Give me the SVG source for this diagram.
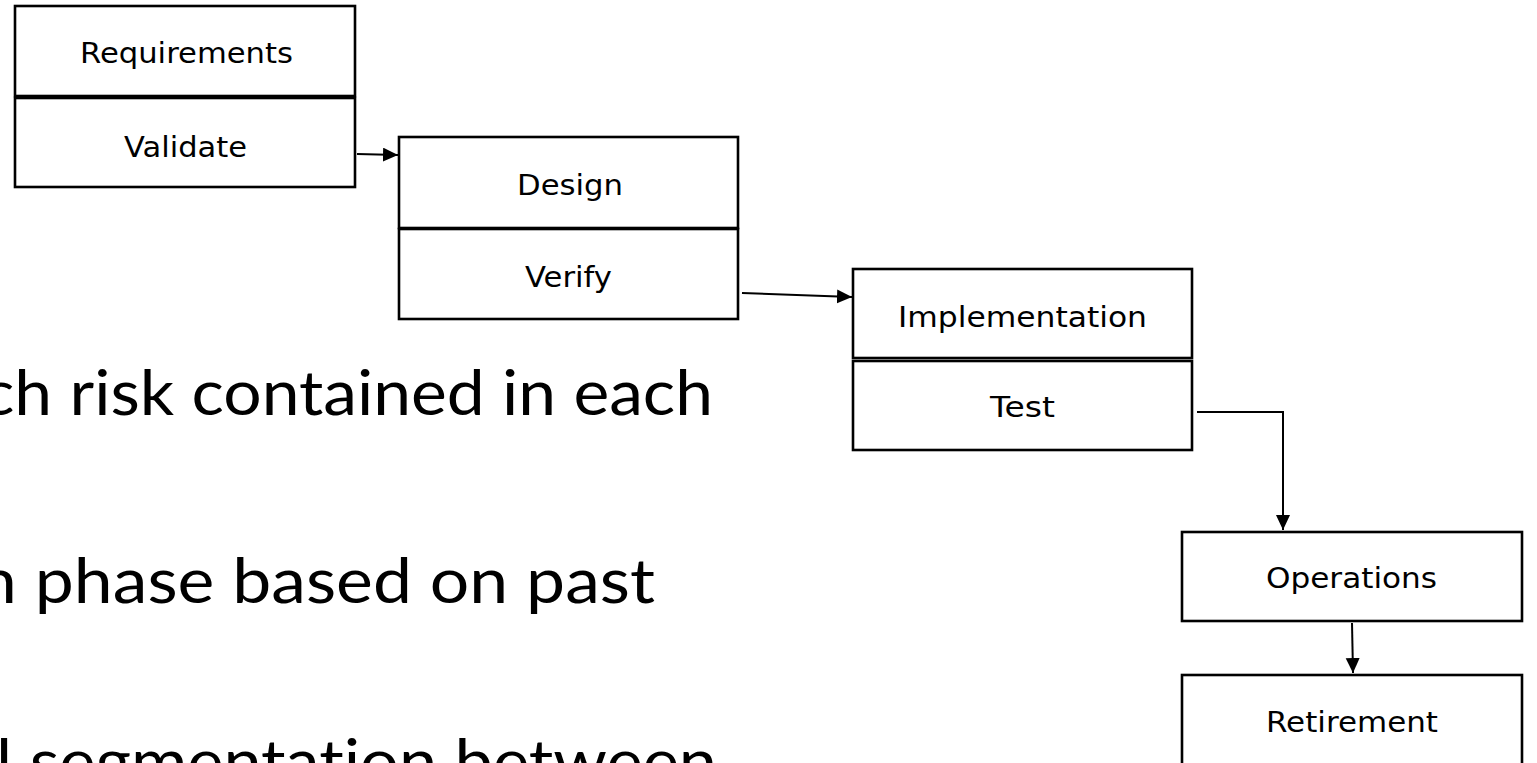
<svg xmlns="http://www.w3.org/2000/svg" width="1537" height="763" viewBox="0 0 1537 763">
<style>
.box{fill:#fff;stroke:#000;stroke-width:2.6}
.lbl{font-family:"DejaVu Sans",Verdana,sans-serif;font-size:28px;fill:#000}
.big{font-family:Lato,"Open Sans",sans-serif;font-size:62px;fill:#000;font-variant-ligatures:none}
.con{fill:none;stroke:#000;stroke-width:2}
</style>
<defs>
<marker id="ah" markerUnits="userSpaceOnUse" markerWidth="16" markerHeight="16" refX="15" refY="7" orient="auto">
<path d="M0,0 L15,7 L0,14 z" fill="#000"/>
</marker>
</defs>
<rect width="1537" height="763" fill="#fff"/>
<g id="bodytext">
<text class="big" x="-18" y="415" textLength="731" lengthAdjust="spacingAndGlyphs">ch risk contained in each</text>
<text class="big" x="-22" y="603" textLength="677" lengthAdjust="spacingAndGlyphs">n phase based on past</text>
<text class="big" x="-4" y="784" textLength="721" lengthAdjust="spacingAndGlyphs">l segmentation between</text>
</g>
<g id="requirements">
<rect class="box" x="15" y="6" width="340" height="90"/>
<rect class="box" x="15" y="98" width="340" height="89"/>
<text class="lbl" x="80" y="63" textLength="213" lengthAdjust="spacingAndGlyphs">Requirements</text>
<text class="lbl" x="124" y="157" textLength="123" lengthAdjust="spacingAndGlyphs">Validate</text>
</g>
<g id="design">
<rect class="box" x="399" y="137" width="339" height="91"/>
<rect class="box" x="399" y="229" width="339" height="90"/>
<text class="lbl" x="517" y="195" textLength="106" lengthAdjust="spacingAndGlyphs">Design</text>
<text class="lbl" x="525" y="287" textLength="87" lengthAdjust="spacingAndGlyphs">Verify</text>
</g>
<g id="implementation">
<rect class="box" x="853" y="269" width="339" height="89"/>
<rect class="box" x="853" y="361" width="339" height="89"/>
<text class="lbl" x="898" y="327" textLength="249" lengthAdjust="spacingAndGlyphs">Implementation</text>
<text class="lbl" x="990" y="417" textLength="65" lengthAdjust="spacingAndGlyphs">Test</text>
</g>
<g id="operations">
<rect class="box" x="1182" y="532" width="340" height="89"/>
<text class="lbl" x="1266" y="588" textLength="171" lengthAdjust="spacingAndGlyphs">Operations</text>
</g>
<g id="retirement">
<rect class="box" x="1182" y="675" width="340" height="95"/>
<text class="lbl" x="1266" y="732" textLength="172" lengthAdjust="spacingAndGlyphs">Retirement</text>
</g>
<g id="connectors">
<path class="con" d="M357,154 L398,155" marker-end="url(#ah)"/>
<path class="con" d="M742,293 L852,297" marker-end="url(#ah)"/>
<path class="con" d="M1197,412 L1283,412 L1283,530" marker-end="url(#ah)"/>
<path class="con" d="M1352,623 L1353,673" marker-end="url(#ah)"/>
</g>
</svg>
